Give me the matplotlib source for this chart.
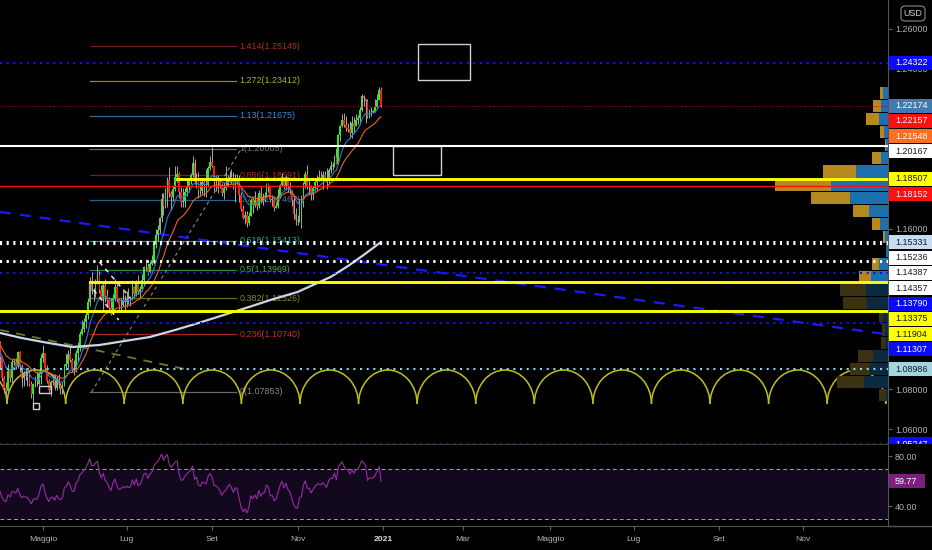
import numpy as np
import pandas as pd
import matplotlib
matplotlib.use("Agg")
from matplotlib import pyplot as plt
from matplotlib.patches import Arc, Rectangle, FancyBboxPatch
from matplotlib.lines import Line2D
from matplotlib.transforms import Bbox

plt.rcParams['font.family'] = ['Liberation Sans', 'DejaVu Sans']

# EUR/USD daily, 2020-03-02 .. 2020-12-31 (one line per month)
first_open = 1.1026
closes = [
    1.1137, 1.1175, 1.1136, 1.1240, 1.1284, 1.1448, 1.1283, 1.1268, 1.1178, 1.1106, 1.1185, 1.0996, 1.0918, 1.0690, 1.0694, 1.0720, 1.0790, 1.0885, 1.1030, 1.1141, 1.1045, 1.1031,
    1.0962, 1.0857, 1.0803, 1.0792, 1.0890, 1.0857, 1.0936, 1.0937, 1.0914, 1.0986, 1.0908, 1.0856, 1.0876, 1.0864, 1.0858, 1.0823, 1.0775, 1.0823, 1.0825, 1.0823, 1.0874, 1.0955,
    1.0982, 1.0905, 1.0838, 1.0795, 1.0834, 1.0840, 1.0805, 1.0850, 1.0818, 1.0805, 1.0819, 1.0916, 1.0924, 1.0976, 1.0947, 1.0900, 1.0898, 1.0978, 1.1004, 1.1077, 1.1100,
    1.1135, 1.1169, 1.1235, 1.1337, 1.1290, 1.1294, 1.1340, 1.1372, 1.1297, 1.1256, 1.1318, 1.1263, 1.1246, 1.1205, 1.1177, 1.1257, 1.1308, 1.1251, 1.1219, 1.1221, 1.1243, 1.1234,
    1.1250, 1.1239, 1.1246, 1.1309, 1.1275, 1.1332, 1.1286, 1.1300, 1.1343, 1.1409, 1.1411, 1.1383, 1.1427, 1.1445, 1.1525, 1.1570, 1.1596, 1.1655, 1.1752, 1.1716, 1.1791, 1.1844, 1.1778,
    1.1761, 1.1802, 1.1858, 1.1875, 1.1787, 1.1736, 1.1738, 1.1786, 1.1812, 1.1842, 1.1870, 1.1930, 1.1837, 1.1861, 1.1795, 1.1791, 1.1833, 1.1827, 1.1819, 1.1904, 1.1937,
    1.1913, 1.1854, 1.1850, 1.1838, 1.1816, 1.1780, 1.1803, 1.1815, 1.1845, 1.1862, 1.1844, 1.1812, 1.1848, 1.1838, 1.1771, 1.1701, 1.1656, 1.1672, 1.1630, 1.1665, 1.1744, 1.1719,
    1.1747, 1.1715, 1.1781, 1.1734, 1.1760, 1.1760, 1.1826, 1.1815, 1.1745, 1.1746, 1.1705, 1.1716, 1.1767, 1.1820, 1.1861, 1.1815, 1.1859, 1.1812, 1.1794, 1.1747, 1.1676, 1.1646,
    1.1640, 1.1716, 1.1721, 1.1827, 1.1875, 1.1814, 1.1815, 1.1776, 1.1806, 1.1834, 1.1857, 1.1858, 1.1853, 1.1871, 1.1857, 1.1843, 1.1896, 1.1915, 1.1915, 1.1962, 1.1927,
    1.2071, 1.2115, 1.2146, 1.2120, 1.2104, 1.2102, 1.2079, 1.2132, 1.2113, 1.2147, 1.2155, 1.2196, 1.2264, 1.2255, 1.2242, 1.2161, 1.2185, 1.2185, 1.2187, 1.2212, 1.2247, 1.2294, 1.2216,
]
highs = [
    1.1185, 1.1213, 1.1199, 1.1245, 1.1356, 1.1495, 1.1449, 1.1354, 1.1318, 1.1237, 1.1238, 1.1193, 1.1030, 1.0955, 1.0832, 1.0828, 1.0888, 1.0889, 1.1032, 1.1147, 1.1145, 1.1076,
    1.1041, 1.0965, 1.0867, 1.0836, 1.0925, 1.0897, 1.0952, 1.0954, 1.0955, 1.0990, 1.0990, 1.0926, 1.0889, 1.0905, 1.0890, 1.0888, 1.0839, 1.0829, 1.0863, 1.0891, 1.0889, 1.0973,
    1.1019, 1.0973, 1.0921, 1.0850, 1.0846, 1.0876, 1.0876, 1.0866, 1.0874, 1.0815, 1.0835, 1.0926, 1.0975, 1.0995, 1.1009, 1.0954, 1.0947, 1.0996, 1.1035, 1.1092, 1.1147,
    1.1155, 1.1194, 1.1257, 1.1361, 1.1384, 1.1306, 1.1350, 1.1422, 1.1390, 1.1319, 1.1339, 1.1350, 1.1298, 1.1259, 1.1257, 1.1275, 1.1349, 1.1323, 1.1256, 1.1254, 1.1290, 1.1269,
    1.1292, 1.1303, 1.1260, 1.1347, 1.1315, 1.1345, 1.1371, 1.1314, 1.1375, 1.1417, 1.1452, 1.1432, 1.1442, 1.1469, 1.1540, 1.1601, 1.1620, 1.1660, 1.1781, 1.1779, 1.1805, 1.1859, 1.1908,
    1.1790, 1.1814, 1.1916, 1.1916, 1.1886, 1.1810, 1.1806, 1.1803, 1.1844, 1.1856, 1.1880, 1.1965, 1.1950, 1.1882, 1.1884, 1.1839, 1.1855, 1.1845, 1.1900, 1.1916, 1.1966,
    1.2011, 1.1917, 1.1868, 1.1872, 1.1840, 1.1831, 1.1833, 1.1917, 1.1872, 1.1888, 1.1900, 1.1883, 1.1873, 1.1873, 1.1872, 1.1783, 1.1719, 1.1688, 1.1689, 1.1683, 1.1756, 1.1754,
    1.1790, 1.1750, 1.1795, 1.1808, 1.1779, 1.1787, 1.1831, 1.1830, 1.1818, 1.1770, 1.1752, 1.1737, 1.1802, 1.1826, 1.1880, 1.1862, 1.1871, 1.1860, 1.1834, 1.1797, 1.1760, 1.1707,
    1.1668, 1.1744, 1.1770, 1.1837, 1.1891, 1.1920, 1.1845, 1.1820, 1.1813, 1.1840, 1.1868, 1.1894, 1.1891, 1.1890, 1.1889, 1.1905, 1.1907, 1.1941, 1.1937, 1.1968, 1.2004,
    1.2077, 1.2122, 1.2176, 1.2178, 1.2166, 1.2130, 1.2140, 1.2163, 1.2162, 1.2177, 1.2170, 1.2212, 1.2273, 1.2271, 1.2251, 1.2252, 1.2200, 1.2211, 1.2195, 1.2250, 1.2276, 1.2310, 1.2310,
]
lows = [
    1.1020, 1.1109, 1.1109, 1.1131, 1.1214, 1.1296, 1.1255, 1.1256, 1.1132, 1.1054, 1.1053, 1.0966, 1.0868, 1.0637, 1.0636, 1.0637, 1.0732, 1.0735, 1.0868, 1.0953, 1.1006, 1.0926,
    1.0906, 1.0840, 1.0778, 1.0768, 1.0791, 1.0833, 1.0832, 1.0922, 1.0899, 1.0904, 1.0885, 1.0812, 1.0815, 1.0845, 1.0817, 1.0815, 1.0755, 1.0727, 1.0810, 1.0815, 1.0822, 1.0826,
    1.0935, 1.0888, 1.0829, 1.0782, 1.0767, 1.0818, 1.0796, 1.0793, 1.0805, 1.0774, 1.0773, 1.0813, 1.0895, 1.0906, 1.0934, 1.0887, 1.0871, 1.0885, 1.0942, 1.0990, 1.1070,
    1.1086, 1.1104, 1.1152, 1.1213, 1.1273, 1.1241, 1.1258, 1.1325, 1.1282, 1.1249, 1.1192, 1.1237, 1.1208, 1.1196, 1.1168, 1.1175, 1.1239, 1.1237, 1.1187, 1.1196, 1.1213, 1.1190,
    1.1211, 1.1225, 1.1214, 1.1243, 1.1254, 1.1266, 1.1273, 1.1255, 1.1292, 1.1314, 1.1390, 1.1371, 1.1378, 1.1421, 1.1426, 1.1503, 1.1541, 1.1582, 1.1637, 1.1668, 1.1704, 1.1710, 1.1761,
    1.1696, 1.1741, 1.1788, 1.1834, 1.1754, 1.1712, 1.1711, 1.1711, 1.1766, 1.1783, 1.1825, 1.1860, 1.1827, 1.1804, 1.1753, 1.1772, 1.1774, 1.1767, 1.1762, 1.1811, 1.1897,
    1.1912, 1.1789, 1.1790, 1.1781, 1.1803, 1.1765, 1.1752, 1.1796, 1.1814, 1.1833, 1.1823, 1.1801, 1.1737, 1.1826, 1.1736, 1.1690, 1.1650, 1.1627, 1.1612, 1.1618, 1.1665, 1.1681,
    1.1710, 1.1696, 1.1705, 1.1728, 1.1721, 1.1734, 1.1758, 1.1784, 1.1736, 1.1717, 1.1688, 1.1703, 1.1704, 1.1756, 1.1814, 1.1802, 1.1797, 1.1784, 1.1777, 1.1717, 1.1650, 1.1622,
    1.1622, 1.1636, 1.1603, 1.1711, 1.1807, 1.1801, 1.1776, 1.1745, 1.1745, 1.1790, 1.1797, 1.1840, 1.1840, 1.1802, 1.1839, 1.1802, 1.1829, 1.1880, 1.1896, 1.1910, 1.1923,
    1.1924, 1.2040, 1.2111, 1.2111, 1.2091, 1.2086, 1.2060, 1.2057, 1.2081, 1.2113, 1.2126, 1.2126, 1.2191, 1.2213, 1.2130, 1.2157, 1.2153, 1.2167, 1.2180, 1.2183, 1.2205, 1.2244, 1.2212,
]

# 200-day average
ma200_dates = ['2020-04-01', '2020-04-16', '2020-05-01', '2020-05-22', '2020-06-11', '2020-06-30', '2020-07-17',
               '2020-08-05', '2020-08-21', '2020-09-09', '2020-09-28', '2020-10-14', '2020-11-02', '2020-11-25',
               '2020-12-08', '2020-12-18', '2020-12-31']
ma200_vals = [1.1080, 1.1055, 1.1035, 1.1010, 1.1020, 1.1040, 1.1060, 1.1095, 1.1130, 1.1170, 1.1210, 1.1248,
              1.1285, 1.1360, 1.1415, 1.1470, 1.1535]

# fibonacci retracement
fib_ratios = ['1.414', '1.272', '1.13', '1', '0.886', '0.786', '0.618', '0.5', '0.382', '0.236', '0']
fib_prices = [1.25149, 1.23412, 1.21675, 1.20005, 1.18691, 1.17467, 1.15413, 1.13969, 1.12526, 1.10740, 1.07853]
fib_line_colors = ['#7a1c1c', '#8a8a1e', '#2a6f9e', '#6a6a6a', '#7a1c1c', '#24628e', '#1f8a84', '#2a8a3a',
                   '#6b6b12', '#a82020', '#6a6a6a']
fib_text_colors = ['#a8302c', '#b0b02a', '#3a8ed6', '#7a7a7a', '#a8302c', '#3a7ab8', '#2aa8a0', '#3ab04a',
                   '#8a8a1e', '#c8302c', '#8a8a8a']

# horizontal price levels: (price, colour, kind, start date or None)
levels = [
    (1.24322, '#1010ff', 'dot', None),
    (1.22174, '#a01010', 'fine', None),
    (1.20167, '#ffffff', 'solid', None),
    (1.18507, '#ffff00', 'thick', '2020-08-06'),
    (1.18152, '#ff1010', 'thin', None),
    (1.15331, '#ffffff', 'dot', None),
    (1.15236, '#ffffff', 'dot', None),
    (1.14387, '#ffffff', 'dot', None),
    (1.14357, '#ffffff', 'dot', None),
    (1.13790, '#1010ff', 'dot', None),
    (1.13375, '#ffff00', 'thick', '2020-06-04'),
    (1.11904, '#ffff00', 'thick', None),
    (1.11307, '#1010ff', 'dot', None),
    (1.08986, '#8fd0e8', 'dot', None),
    (1.05247, '#1010ff', 'dot', None),
]

# right axis price tags: (price, text, box colour, text colour)
price_tags = [
    (1.24322, '1.24322', '#0a0aff', 'white'),
    (1.22174, '1.22174', '#3f7bb0', 'white'),
    (1.22157, '1.22157', '#ff1010', 'white'),
    (1.21548, '1.21548', '#ff6f22', 'white'),
    (1.20167, '1.20167', '#ffffff', '#131722'),
    (1.18507, '1.18507', '#ffff00', '#131722'),
    (1.18152, '1.18152', '#ff1010', 'white'),
    (1.15331, '1.15331', '#c8dcf2', '#131722'),
    (1.15236, '1.15236', '#ffffff', '#131722'),
    (1.14387, '1.14387', '#ffffff', '#131722'),
    (1.14357, '1.14357', '#ffffff', '#131722'),
    (1.13790, '1.13790', '#0a0aff', 'white'),
    (1.13375, '1.13375', '#ffff00', '#131722'),
    (1.11904, '1.11904', '#ffff00', '#131722'),
    (1.11307, '1.11307', '#0a0aff', 'white'),
    (1.08986, '1.08986', '#9fd6e0', '#131722'),
    (1.05247, '1.05247', '#0a0aff', 'white'),
]
rsi_last = 59.77

# volume profile rows, top to bottom (buy / sell volume)
vp_top = 1.2315
vp_step = 0.00658
vp_buy = [3, 8, 13, 4, 1, 9, 33, 56, 39, 16, 8, 2, 0, 7, 12, 26, 24, 4, 3, 4, 15, 20, 27, 7]
vp_sell = [5, 7, 9, 4, 2, 7, 32, 57, 38, 19, 8, 3, 2, 9, 17, 22, 21, 5, 3, 3, 15, 18, 24, 2]
value_area_rows = 15

# drawings: rectangles (date from, date to, price low, price high)
boxes = [('2021-01-27', '2021-03-05', 1.2345, 1.2525),
         ('2021-01-08', '2021-02-12', 1.1870, 1.2017),
         ('2020-04-29', '2020-05-07', 1.0780, 1.0815),
         ('2020-04-24', '2020-04-29', 1.0700, 1.0730)]
fib_from, fib_to = '2020-06-04', '2020-09-17'
fib_diag = [('2020-06-05', 1.07853), ('2020-09-22', 1.20005)]
blue_trend = [('2020-04-01', 1.1685), ('2021-01-01', 1.1421)]
olive_trend = [('2020-04-01', 1.1095), ('2020-08-12', 1.0900)]
white_dashes = [[('2020-06-11', 1.1435), ('2020-07-03', 1.1255)],
                [('2020-06-08', 1.1295), ('2020-06-25', 1.1145)]]
cycle_start = '2020-04-06'
cycle_period = 30.15
cycle_base, cycle_height = 1.0725, 0.0170

month_ticks = ['2020-05-01', '2020-07-01', '2020-09-01', '2020-11-02', '2021-01-01',
               '2021-03-01', '2021-05-03', '2021-07-01', '2021-09-01', '2021-11-01']
month_labels = ['Maggio', 'Lug', 'Set', 'Nov', '2021', 'Mar', 'Maggio', 'Lug', 'Set', 'Nov']

# ---------------------------------------------------------------------------
axis_dates = pd.bdate_range('2020-03-02', '2021-12-31')


def bar_of(day):
    return float(axis_dates.searchsorted(pd.Timestamp(day)))


c = np.array(closes)
h = np.array(highs)
l = np.array(lows)
o = np.concatenate([[first_open], c[:-1]])
x = np.arange(len(c))

ema_fast = pd.Series(c).ewm(span=10, adjust=False).mean()
ema_slow = pd.Series(c).ewm(span=21, adjust=False).mean()
d = pd.Series(c).diff()
gain = d.clip(lower=0).ewm(alpha=1 / 14, adjust=False).mean()
loss = (-d.clip(upper=0)).ewm(alpha=1 / 14, adjust=False).mean()
rsi = 100 - 100 / (1 + gain / loss)

W, H = 932, 550
fig = plt.figure(figsize=(W / 100, H / 100), dpi=100, facecolor='black')
ax = fig.add_axes([0, 106 / H, 888 / W, 444 / H], facecolor='black')
ax2 = fig.add_axes([0, 24 / H, 888 / W, 81 / H], facecolor='black')

px_per_bar = 1.943
x_left = bar_of('2020-04-01') - 0.13
x_right = x_left + 888 / px_per_bar
for a in (ax, ax2):
    a.set_xlim(x_left, x_right)
ax.set_ylim(1.0525, 1.2745)
ax2.set_ylim(24, 88.8)

# fibonacci
f0, f1 = bar_of(fib_from), bar_of(fib_to) + 0.3
for r, p, lc, tc in zip(fib_ratios, fib_prices, fib_line_colors, fib_text_colors):
    ax.plot([f0, f1], [p, p], color=lc, lw=0.9, zorder=1)
    ax.text(f1 + 1.8, p, f"{r}({p:.5f})", color=tc, fontsize=6.4, va='center', ha='left', zorder=1)
ax.plot([bar_of(fib_diag[0][0]), bar_of(fib_diag[1][0])], [fib_diag[0][1], fib_diag[1][1]],
        color='#8a8a8a', lw=0.8, dashes=(3, 3), zorder=1)

# cycle arcs
cs = bar_of(cycle_start) + 0.5
k = -1
while cs + k * cycle_period < x_right + cycle_period:
    cx = cs + (k + 0.5) * cycle_period
    ax.add_patch(Arc((cx, cycle_base), cycle_period, 2 * cycle_height, theta1=0, theta2=180,
                     color='#c0c01c', lw=1.1, zorder=1.5))
    k += 1

# trend lines
ax.axline((bar_of(blue_trend[0][0]), blue_trend[0][1]), (bar_of(blue_trend[1][0]), blue_trend[1][1]),
          color='#1a1aff', lw=1.6, dashes=(5, 4), zorder=2)
ax.plot([bar_of(olive_trend[0][0]), bar_of(olive_trend[1][0])], [olive_trend[0][1], olive_trend[1][1]],
        color='#6a7a28', lw=1.3, dashes=(5, 4), zorder=2)

# volume profile
for i, (b, s) in enumerate(zip(vp_buy, vp_sell)):
    lo = vp_top - (i + 1) * vp_step
    bright = i < value_area_rows
    cb = '#b5891e' if bright else '#3c3113'
    cs_ = '#1d6fae' if bright else '#0b2a40'
    ws = s / px_per_bar
    wb = b / px_per_bar
    ax.add_patch(Rectangle((x_right - ws, lo + vp_step * 0.04), ws, vp_step * 0.92, facecolor=cs_,
                           edgecolor='none', zorder=2.2))
    if b > 0:
        ax.add_patch(Rectangle((x_right - ws - wb, lo + vp_step * 0.04), wb, vp_step * 0.92, facecolor=cb,
                               edgecolor='none', zorder=2.2))

# candles
up = c >= o
ax.vlines(x, l, h, color='#a8a8a8', lw=0.7, zorder=3)
body = np.maximum(np.abs(c - o), 0.0003)
ax.bar(x, body, bottom=np.minimum(o, c), width=0.86, color=np.where(up, '#22ee22', '#ff1a1a'),
       linewidth=0, zorder=3.2)

# moving averages
ma_x = [bar_of(dd) for dd in ma200_dates]
ax.plot(ma_x, ma200_vals, color='#c9d6ea', lw=1.6, zorder=3.5, solid_capstyle='round')
vis = x >= bar_of('2020-04-01') - 1
ax.plot(x[vis], ema_fast[vis], color='#2a7fd0', lw=0.8, zorder=3.4)
ax.plot(x[vis], ema_slow[vis], color='#e8651a', lw=0.8, zorder=3.4)

# white drawings
for seg in white_dashes:
    ax.plot([bar_of(seg[0][0]), bar_of(seg[1][0])], [seg[0][1], seg[1][1]], color='#e6e6e6', lw=1.1,
            dashes=(3, 3), zorder=4)
for d0, d1, p0, p1 in boxes:
    b0, b1 = bar_of(d0), bar_of(d1)
    ax.add_patch(Rectangle((b0, p0), b1 - b0, p1 - p0, fill=False, edgecolor='#cfcfcf', lw=1.0, zorder=4))

# horizontal levels
for p, col, kind, start in levels:
    xs = bar_of(start) if start else x_left
    if kind == 'dot':
        ax.plot([xs, x_right], [p, p], color=col, lw=1.5, linestyle=(0, (1, 2.2)), zorder=5)
    elif kind == 'fine':
        ax.plot([xs, x_right], [p, p], color=col, lw=0.7, linestyle=(0, (1, 1.5)), zorder=5)
    elif kind == 'thick':
        ax.plot([xs, x_right], [p, p], color=col, lw=2.1, zorder=5)
    elif kind == 'solid':
        ax.plot([xs, x_right], [p, p], color=col, lw=1.5, zorder=5)
    else:
        ax.plot([xs, x_right], [p, p], color=col, lw=1.0, zorder=5)

# RSI panel
ax2.axhspan(30, 70, color='#13091e', zorder=0)
for lvl in (70, 30):
    ax2.axhline(lvl, color='#a0a0a8', lw=0.7, dashes=(4, 3), zorder=1)
ax2.plot(x, rsi, color='#9a2aa8', lw=0.8, zorder=2)


def to_px(a, v):
    return H - a.transData.transform((0, v))[1]


# where the price tags sit on the right axis (stacked downwards when they would overlap)
tag_rows = []
prev = -1e9
for p, txt, fc, tc in sorted(price_tags, key=lambda t: -t[0]):
    y = max(to_px(ax, p), prev + 15.3)
    prev = y
    tag_rows.append((y, txt, fc, tc))

# axes styling; price ticks mostly hidden under a tag are left out, like the chart does
tick_col = '#b2b5be'
for a in (ax, ax2):
    for sp in ('left', 'top'):
        a.spines[sp].set_visible(False)
    a.spines['right'].set_color('#555555')
    a.yaxis.tick_right()
    a.tick_params(axis='y', colors='#666666', labelcolor=tick_col, labelsize=6.4, length=3, pad=2)
ax.spines['bottom'].set_color('#3a3a3a')
ax2.spines['bottom'].set_color('#555555')
ax.set_xticks([])
price_ticks = [t for t in np.arange(1.06, 1.2601, 0.02)
               if min(abs(to_px(ax, t) - r[0]) for r in tag_rows) >= 6]
ax.set_yticks(price_ticks)
ax.yaxis.set_major_formatter(matplotlib.ticker.FormatStrFormatter('%.5f'))
rsi_ticks = [t for t in (40, 60, 80) if abs(to_px(ax2, t) - to_px(ax2, rsi_last)) >= 9]
ax2.set_yticks(rsi_ticks)
ax2.yaxis.set_major_formatter(matplotlib.ticker.FormatStrFormatter('%.2f'))
ax2.set_xticks([bar_of(m) for m in month_ticks])
ax2.set_xticklabels(month_labels)
ax2.tick_params(axis='x', colors='#666666', labelcolor=tick_col, labelsize=6.1, length=3, pad=4)
for t in ax2.get_xticklabels():
    if t.get_text() == '2021':
        t.set_fontweight('bold')
        t.set_color('#d8d8d8')

fig.add_artist(Line2D([888 / W, 1], [24 / H, 24 / H], color='#555555', lw=1.0))

# price tags
clip = Bbox.from_extents(888, H - 444, W, H)
for y, txt, fc, tc in tag_rows:
    r = Rectangle((889 / W, 1 - (y + 7) / H), 43 / W, 14 / H, transform=fig.transFigure,
                  facecolor=fc, edgecolor='none', zorder=5)
    r.set_clip_box(clip)
    fig.add_artist(r)
    t = fig.text(895 / W, 1 - y / H, txt, color=tc, fontsize=6.4, va='center', ha='left', zorder=6)
    t.set_clip_box(clip)
    t.set_clip_on(True)

y = to_px(ax2, rsi_last)
fig.add_artist(Rectangle((889 / W, 1 - (y + 7) / H), 36 / W, 14 / H, transform=fig.transFigure,
                         facecolor='#7b1f80', edgecolor='none', zorder=5))
fig.text(895 / W, 1 - y / H, f"{rsi_last:.2f}", color='white', fontsize=6.4, va='center', ha='left', zorder=6)

fig.add_artist(FancyBboxPatch((901 / W, 1 - 21 / H), 24 / W, 15 / H, boxstyle='round,pad=0,rounding_size=0.006',
                              transform=fig.transFigure, facecolor='black', edgecolor='#8a8a8a', lw=0.8))
fig.text(913 / W, 1 - 13.5 / H, 'USD', color='#d0d0d0', fontsize=6.4, va='center', ha='center')

fig.savefig('out.png', dpi=100, facecolor='black')
